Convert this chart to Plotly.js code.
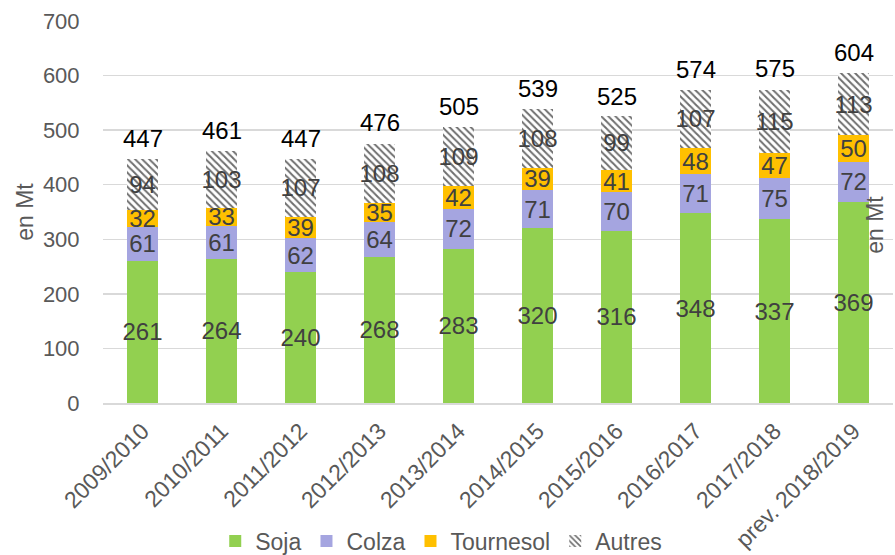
<!DOCTYPE html>
<html><head><meta charset="utf-8">
<script src="https://cdn.plot.ly/plotly-3.0.1.min.js"></script>
<style>body{margin:0}#c{width:895px;height:555px}</style>
</head><body><div id="c"></div>
<script>
var categories = ["2009/2010","2010/2011","2011/2012","2012/2013","2013/2014","2014/2015","2015/2016","2016/2017","2017/2018","prev. 2018/2019"];
var soja = [261,264,240,268,283,320,316,348,337,369];
var colza = [61,61,62,64,72,71,70,71,75,72];
var tournesol = [32,33,39,35,42,39,41,48,47,50];
var autres = [94,103,107,108,109,108,99,107,115,113];
var totals = [447,461,447,476,505,539,525,574,575,604];

var F = "Liberation Sans, Arial, sans-serif";
function seg(name, vals, color, pattern){
  var m = {color: color, line:{width:0}};
  if (pattern) m = {color:'#ffffff', pattern:{shape:'\\', fgcolor:'#6f6f6f', bgcolor:'#ffffff', size:5, solidity:0.4}, line:{width:0}};
  return {type:'bar', name:name, x:categories, y:vals, marker:m,
    text: vals.map(String), textposition:'inside', insidetextanchor:'middle', textangle:0,
    textfont:{family:F, size:24, color:'#404040'}, hoverinfo:'skip', cliponaxis:false};
}
var data = [
  seg('Soja', soja, '#92D050'),
  seg('Colza', colza, '#A5A5E0'),
  seg('Tournesol', tournesol, '#FFC000'),
  seg('Autres', autres, null, true)
];
var anns = categories.map(function(c,i){
  return {x:c, y:totals[i], xref:'x', yref:'y', text:String(totals[i]), showarrow:false,
    yanchor:'bottom', yshift:5, font:{family:F, size:24, color:'#000000'}};
});
anns.push({xref:'paper', yref:'paper', x:0.996, y:0.466, text:'en Mt', textangle:-90, showarrow:false,
    font:{family:F, size:23, color:'#595959'}});
var layout = {
  width:895, height:555, barmode:'stack', bargap:0.6,
  margin:{l:103, r:2, t:21, b:152},
  paper_bgcolor:'#fff', plot_bgcolor:'#fff',
  font:{family:F, color:'#595959'},
  uniformtext:{mode:'show', minsize:24},
  xaxis:{tickangle:-45, tickfont:{family:F, size:23, color:'#595959'}, showline:true, linecolor:'#d9d9d9', linewidth:1.5, ticks:'', ticklabelstandoff:4},
  yaxis:{range:[0,700], dtick:100, tickfont:{family:F, size:22, color:'#595959'}, gridcolor:'#d9d9d9', gridwidth:1.5, zeroline:false,
    ticklen:18, ticks:'outside', tickcolor:'rgba(0,0,0,0)',
    title:{text:'en Mt', font:{family:F, size:23, color:'#595959'}, standoff:2}},
  legend:{orientation:'h', xref:'container', yref:'container', x:0.493, xanchor:'center', y:0.025, yanchor:'middle',
    font:{family:F, size:23, color:'#595959'}, traceorder:'normal', itemwidth:20},
  annotations: anns
};
Plotly.newPlot('c', data, layout, {displayModeBar:false, staticPlot:true});
</script></body></html>
